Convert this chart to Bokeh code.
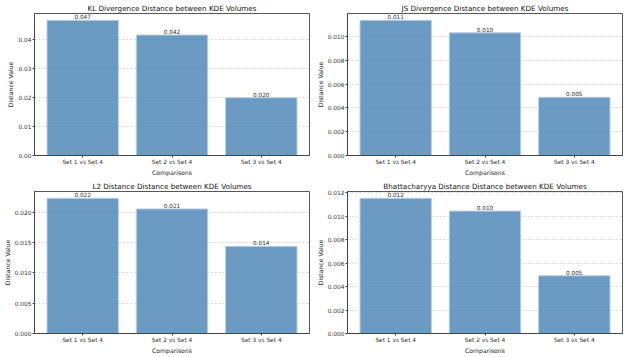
from bokeh.plotting import figure
from bokeh.layouts import gridplot
from bokeh.models import ColumnDataSource, Range1d, FixedTicker, NumeralTickFormatter
from bokeh.core.properties import value
from bokeh.embed import file_html
from bokeh.resources import INLINE

categories = ["Set 1 vs Set 4", "Set 2 vs Set 4", "Set 3 vs Set 4"]

kl_values = [0.0468, 0.0417, 0.0200]
js_values = [0.01138, 0.01032, 0.0049]
l2_values = [0.0223, 0.02054, 0.01438]
bh_values = [0.01152, 0.01043, 0.00492]

kl_ticks = [0.0, 0.01, 0.02, 0.03, 0.04]
js_ticks = [0.0, 0.002, 0.004, 0.006, 0.008, 0.010]
l2_ticks = [0.0, 0.005, 0.010, 0.015, 0.020]
bh_ticks = [0.0, 0.002, 0.004, 0.006, 0.008, 0.010, 0.012]

titles = [
    "KL Divergence Distance between KDE Volumes",
    "JS Divergence Distance between KDE Volumes",
    "L2 Distance Distance between KDE Volumes",
    "Bhattacharyya Distance Distance between KDE Volumes",
]

FONT = "DejaVu Sans"


def make_panel(title, vals, ticks, fmt, width):
    p = figure(width=width, frame_height=142, output_backend="svg", toolbar_location=None,
               x_range=Range1d(-0.54, 2.54), y_range=Range1d(0, max(vals) * 1.05),
               min_border_left=0, min_border_right=4, min_border_top=0, min_border_bottom=0)
    xs = list(range(len(categories)))
    src = ColumnDataSource(dict(x=xs, top=vals, label=[f"{v:.3f}" for v in vals]))
    p.vbar(x="x", top="top", width=0.8, bottom=0, source=src,
           fill_color="#4682b4", fill_alpha=0.8, line_color="#b9d0e4", line_width=1)
    p.text(x="x", y="top", text="label", source=src, text_align="center",
           text_baseline="bottom", y_offset=-1, text_font=value(FONT),
           text_font_size="4.3pt", text_color="#333333")
    p.title.text = title
    p.title.align = "center"
    p.title.text_font = FONT
    p.title.text_font_size = "5.4pt"
    p.title.text_font_style = "normal"
    p.title.text_color = "#111111"
    p.title.offset = 0
    p.title.standoff = 2

    p.xaxis.ticker = FixedTicker(ticks=xs)
    p.xaxis.major_label_overrides = {i: c for i, c in enumerate(categories)}
    p.yaxis.ticker = FixedTicker(ticks=ticks)
    p.yaxis.formatter = NumeralTickFormatter(format=fmt)
    for ax in (p.xaxis[0], p.yaxis[0]):
        ax.major_label_text_font = FONT
        ax.major_label_text_font_size = "4.4pt"
        ax.major_label_text_color = "#333333"
        ax.axis_label_text_font = FONT
        ax.axis_label_text_font_size = "4.6pt"
        ax.axis_label_text_font_style = "normal"
        ax.axis_label_text_color = "#222222"
        ax.axis_line_color = "#444444"
        ax.major_tick_line_color = "#444444"
        ax.major_tick_in = 0
        ax.major_tick_out = 2
        ax.minor_tick_line_color = None
        ax.major_label_standoff = 1
        ax.axis_label_standoff = 1
    p.xaxis.axis_label = "Comparisons"
    p.yaxis.axis_label = "Distance Value"

    p.xgrid.grid_line_color = None
    p.ygrid.grid_line_color = "#cccccc"
    p.ygrid.grid_line_dash = "2 2"
    p.ygrid.grid_line_alpha = 0.8
    p.outline_line_color = "#555555"
    p.outline_line_width = 1
    p.background_fill_color = "white"
    p.border_fill_color = "white"
    return p


W = 313
p1 = make_panel(titles[0], kl_values, kl_ticks, "0.00", W)
p2 = make_panel(titles[1], js_values, js_ticks, "0.000", W)
p3 = make_panel(titles[2], l2_values, l2_ticks, "0.000", W)
p4 = make_panel(titles[3], bh_values, bh_ticks, "0.000", W)

grid = gridplot([[p1, p2], [p3, p4]], toolbar_location=None)

open("out.html", "w").write(file_html(grid, INLINE))
